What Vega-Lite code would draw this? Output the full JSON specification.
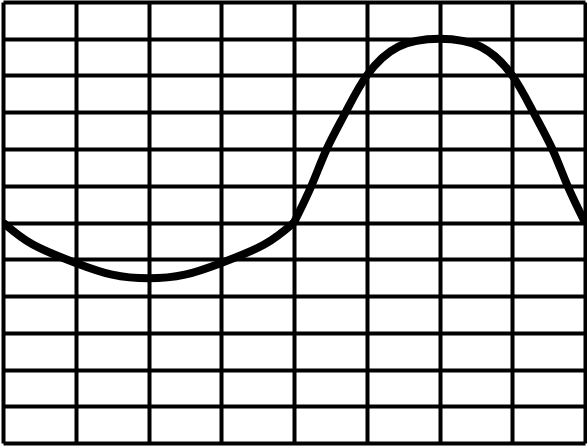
{
  "$schema": "https://vega.github.io/schema/vega-lite/v6.json",
  "width": 582,
  "height": 441,
  "autosize": {"type": "none"},
  "padding": {"left": 3, "top": 2, "right": 2, "bottom": 3},
  "background": "white",
  "view": {"stroke": null},
  "config": {
    "axis": {
      "grid": true,
      "gridColor": "black",
      "gridWidth": 4,
      "gridOpacity": 1,
      "domain": false,
      "ticks": false,
      "labels": false,
      "title": null
    }
  },
  "data": {
    "values": [
      {"seg": "a", "x": 0, "y": 0},
      {"seg": "a", "x": 0.41, "y": -0.6},
      {"seg": "a", "x": 1.0, "y": -1.1},
      {"seg": "a", "x": 1.5, "y": -1.42},
      {"seg": "a", "x": 2.0, "y": -1.52},
      {"seg": "a", "x": 2.5, "y": -1.42},
      {"seg": "a", "x": 3.0, "y": -1.1},
      {"seg": "a", "x": 3.59, "y": -0.6},
      {"seg": "a", "x": 4.0, "y": 0},
      {"seg": "b", "x": 4.0, "y": 0},
      {"seg": "b", "x": 4.24, "y": 1},
      {"seg": "b", "x": 4.45, "y": 2},
      {"seg": "b", "x": 4.71, "y": 3},
      {"seg": "b", "x": 5.0, "y": 4},
      {"seg": "b", "x": 5.43, "y": 4.78},
      {"seg": "b", "x": 6.0, "y": 5.0},
      {"seg": "b", "x": 6.57, "y": 4.78},
      {"seg": "b", "x": 7.0, "y": 4},
      {"seg": "b", "x": 7.29, "y": 3},
      {"seg": "b", "x": 7.55, "y": 2},
      {"seg": "b", "x": 7.76, "y": 1},
      {"seg": "b", "x": 8.0, "y": 0}
    ]
  },
  "mark": {"type": "line", "color": "black", "strokeWidth": 8, "interpolate": "natural", "clip": true},
  "encoding": {
    "detail": {"field": "seg", "type": "nominal"},
    "x": {
      "field": "x",
      "type": "quantitative",
      "scale": {"domain": [0, 8], "nice": false, "zero": false},
      "axis": {"values": [0, 1, 2, 3, 4, 5, 6, 7, 8]}
    },
    "y": {
      "field": "y",
      "type": "quantitative",
      "scale": {"domain": [-6, 6], "nice": false, "zero": false},
      "axis": {"values": [-6, -5, -4, -3, -2, -1, 0, 1, 2, 3, 4, 5, 6]}
    }
  }
}
